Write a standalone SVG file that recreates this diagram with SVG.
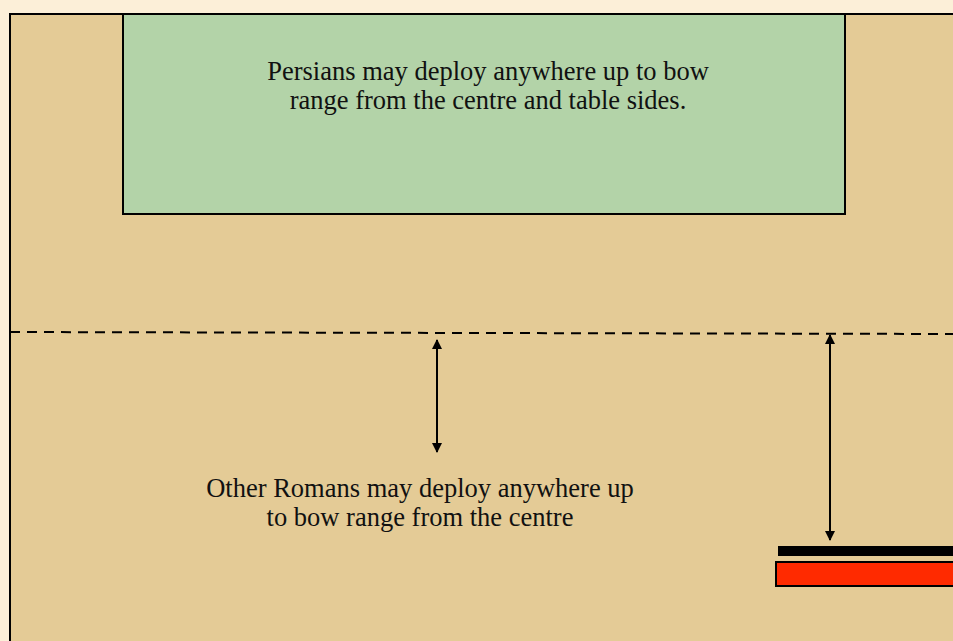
<svg xmlns="http://www.w3.org/2000/svg" width="953" height="641" viewBox="0 0 953 641">
<defs>
<style>
.t{font-family:"Liberation Serif","Times New Roman",serif;font-size:26.5px;fill:#111;text-anchor:middle}
.ln{stroke:#000;stroke-width:2;fill:none}
</style>
<marker id="ah" viewBox="0 0 10 10" refX="9" refY="5" markerWidth="11" markerHeight="10" orient="auto-start-reverse" markerUnits="userSpaceOnUse">
<path d="M0,0 L10,5 L0,10 z" fill="#000"/>
</marker>
</defs>
<rect x="0" y="0" width="953" height="641" fill="#FCEFD8"/>
<g id="table">
<rect x="10" y="14" width="950" height="640" fill="#E4CB96" stroke="#000" stroke-width="2"/>
</g>
<g id="persian-zone">
<rect x="123" y="14" width="722" height="200" fill="#B3D3A8" stroke="#000" stroke-width="2"/>
<text class="t" x="488" y="80">Persians may deploy anywhere up to bow</text>
<text class="t" x="488" y="109">range from the centre and table sides.</text>
</g>
<g id="roman-text">
<text class="t" x="420" y="497">Other Romans may deploy anywhere up</text>
<text class="t" x="420" y="526">to bow range from the centre</text>
</g>
<g id="roman-units">
<rect x="778" y="546" width="180" height="10" fill="#000"/>
<rect x="776" y="562" width="180" height="24" fill="#FF2A00" stroke="#000" stroke-width="2"/>
</g>
<g id="connectors">
<line x1="10" y1="332" x2="953" y2="334" stroke="#000" stroke-width="2" stroke-dasharray="10,7"/>
<line class="ln" x1="437" y1="340" x2="437" y2="452" marker-start="url(#ah)" marker-end="url(#ah)" stroke-width="1.8"/>
<line class="ln" x1="830" y1="335" x2="830" y2="540" marker-start="url(#ah)" marker-end="url(#ah)" stroke-width="1.8"/>
</g>
</svg>
